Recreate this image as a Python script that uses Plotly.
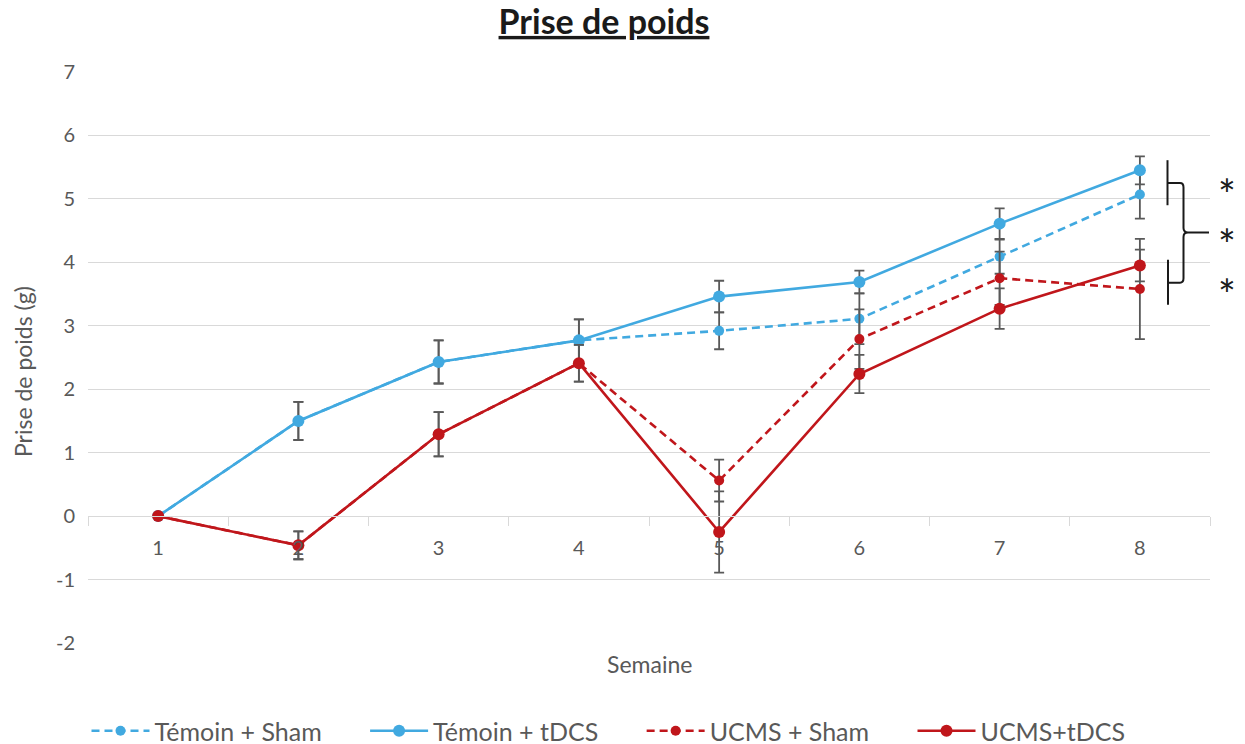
import plotly.graph_objects as go

# Weekly weight gain (g) per group, mean and error
weeks = ["1", "2", "3", "4", "5", "6", "7", "8"]

temoin_sham = [0, 1.50, 2.43, 2.77, 2.92, 3.11, 4.09, 5.07]
temoin_sham_err = [0, 0.30, 0.34, 0.33, 0.29, 0.40, 0.27, 0.38]

temoin_tdcs = [0, 1.50, 2.43, 2.77, 3.46, 3.69, 4.61, 5.45]
temoin_tdcs_err = [0, 0.30, 0.34, 0.33, 0.25, 0.18, 0.24, 0.22]

ucms_sham = [0, -0.46, 1.29, 2.41, 0.56, 2.79, 3.75, 3.58]
ucms_sham_err = [0, 0.22, 0.35, 0.29, 0.33, 0.47, 0.42, 0.79]

ucms_tdcs = [0, -0.46, 1.29, 2.41, -0.25, 2.24, 3.27, 3.95]
ucms_tdcs_err = [0, 0.22, 0.35, 0.29, 0.64, 0.30, 0.32, 0.25]

y_ticks = [-2, -1, 0, 1, 2, 3, 4, 5, 6, 7]
y_tick_text = ["-2", "-1", "0", "1", "2", "3", "4", "5", "6", "7"]

# Significance brackets at week 8 (y spans in g)
pair_top = (4.90, 5.61)
pair_bottom = (3.33, 4.04)
brace_top, brace_mid, brace_bottom = 5.25, 4.47, 3.68
stars = ["*", "*", "*"]

BLUE = "#41A9E0"
RED = "#C0161B"
ERR = "#595959"
GRID = "#D9D9D9"
TXT = "#595959"
FONT = "Lato"
PAD = "\u00a0" * 6


def series(name, y, err, color, dashed, size):
    return go.Scatter(
        x=weeks, y=y, name=name + PAD, mode="lines+markers",
        line=dict(color=color, width=2.6, dash="8px,5px" if dashed else "solid"),
        marker=dict(color=color, size=size),
        error_y=dict(type="data", array=err, visible=True, color=ERR,
                     thickness=1.8, width=5),
    )


fig = go.Figure()
fig.add_trace(series("Témoin + Sham", temoin_sham, temoin_sham_err, BLUE, True, 10))
fig.add_trace(series("UCMS + Sham", ucms_sham, ucms_sham_err, RED, True, 10))
fig.add_trace(series("Témoin + tDCS", temoin_tdcs, temoin_tdcs_err, BLUE, False, 12))
fig.add_trace(series("UCMS+tDCS", ucms_tdcs, ucms_tdcs_err, RED, False, 12))

# legend order
for tr, rank in zip(fig.data, [1, 3, 2, 4]):
    tr.legendrank = rank

# plot area pixel box: x 88..1210, y 72..643
L, R, T, B = 88, 35, 72, 101
W, H = 1245, 744
pw = W - L - R
ph = H - T - B


def px_x(px):
    return (px - L) / pw


# bracket lines
line_style = dict(color="#1A1A1A", width=2)
fig.add_shape(type="line", xref="paper", yref="y", x0=px_x(1167.5), x1=px_x(1167.5),
              y0=pair_top[0], y1=pair_top[1], line=line_style)
fig.add_shape(type="line", xref="paper", yref="y", x0=px_x(1168), x1=px_x(1168),
              y0=pair_bottom[0], y1=pair_bottom[1], line=line_style)

xa, xb, xc, xt = px_x(1167.5), px_x(1180), px_x(1183.5), px_x(1209)
xd = px_x(1188)
dy = 0.07
path = (
    f"M {xa},{brace_top} L {xb},{brace_top} Q {xc},{brace_top} {xc},{brace_top - dy} "
    f"L {xc},{brace_mid + dy} Q {xc},{brace_mid} {xd},{brace_mid} L {xt},{brace_mid} "
    f"M {xd},{brace_mid} Q {xc},{brace_mid} {xc},{brace_mid - dy} "
    f"L {xc},{brace_bottom + dy} Q {xc},{brace_bottom} {xb},{brace_bottom} L {xa},{brace_bottom}"
)
fig.add_shape(type="path", xref="paper", yref="y", path=path, line=line_style)

for s, yv in zip(stars, [brace_top, brace_mid, brace_bottom]):
    fig.add_annotation(text=s, xref="paper", yref="y", x=px_x(1226.5), y=yv,
                       showarrow=False, xanchor="center", yanchor="middle",
                       yshift=-11, font=dict(family=FONT, size=42, color="#1A1A1A"))

# axis titles
fig.add_annotation(text="Prise de poids (g)", xref="paper", yref="paper",
                   x=(23 - L) / pw, y=(643 - 372) / ph, textangle=-90,
                   showarrow=False, xanchor="center", yanchor="middle",
                   font=dict(family=FONT, size=23, color=TXT))
fig.add_annotation(text="Semaine", xref="paper", yref="paper",
                   x=(649 - L) / pw, y=-(664 - 643) / ph,
                   showarrow=False, xanchor="center", yanchor="middle",
                   font=dict(family=FONT, size=23, color=TXT))

fig.update_layout(
    width=W, height=H,
    margin=dict(l=L, r=R, t=T, b=B, autoexpand=False),
    paper_bgcolor="white", plot_bgcolor="white",
    font=dict(family=FONT, color=TXT),
    title=dict(text="<b><u>Prise de poids</u></b>", x=604 / W, xref="container",
               xanchor="center", y=1 - 22 / H, yanchor="middle",
               font=dict(family=FONT, size=34, color="#1A1A1A")),
    showlegend=True,
    legend=dict(orientation="h", x=(628 - L) / pw, xanchor="center",
                y=-(731 - 643) / ph, yanchor="middle",
                font=dict(family=FONT, size=25, color=TXT),
                itemwidth=58, tracegroupgap=0),
    xaxis=dict(
        type="category", range=[-0.5, 7.5],
        anchor="free", position=2 / 9,
        showline=True, linecolor=GRID, linewidth=1.3,
        ticks="outside", tickson="boundaries", ticklen=9, tickcolor=GRID,
        tickwidth=1.3, showgrid=False, zeroline=False,
        tickfont=dict(family=FONT, size=20, color=TXT),
        ticklabelstandoff=14,
    ),
    yaxis=dict(
        range=[-2, 7], tickvals=y_ticks, ticktext=y_tick_text,
        showgrid=True, gridcolor=GRID,
        gridwidth=1.3, zeroline=False, showline=False, ticks="",
        tickfont=dict(family=FONT, size=20, color=TXT),
        ticklabelstandoff=12,
    ),
)

fig.write_html("out.html")
